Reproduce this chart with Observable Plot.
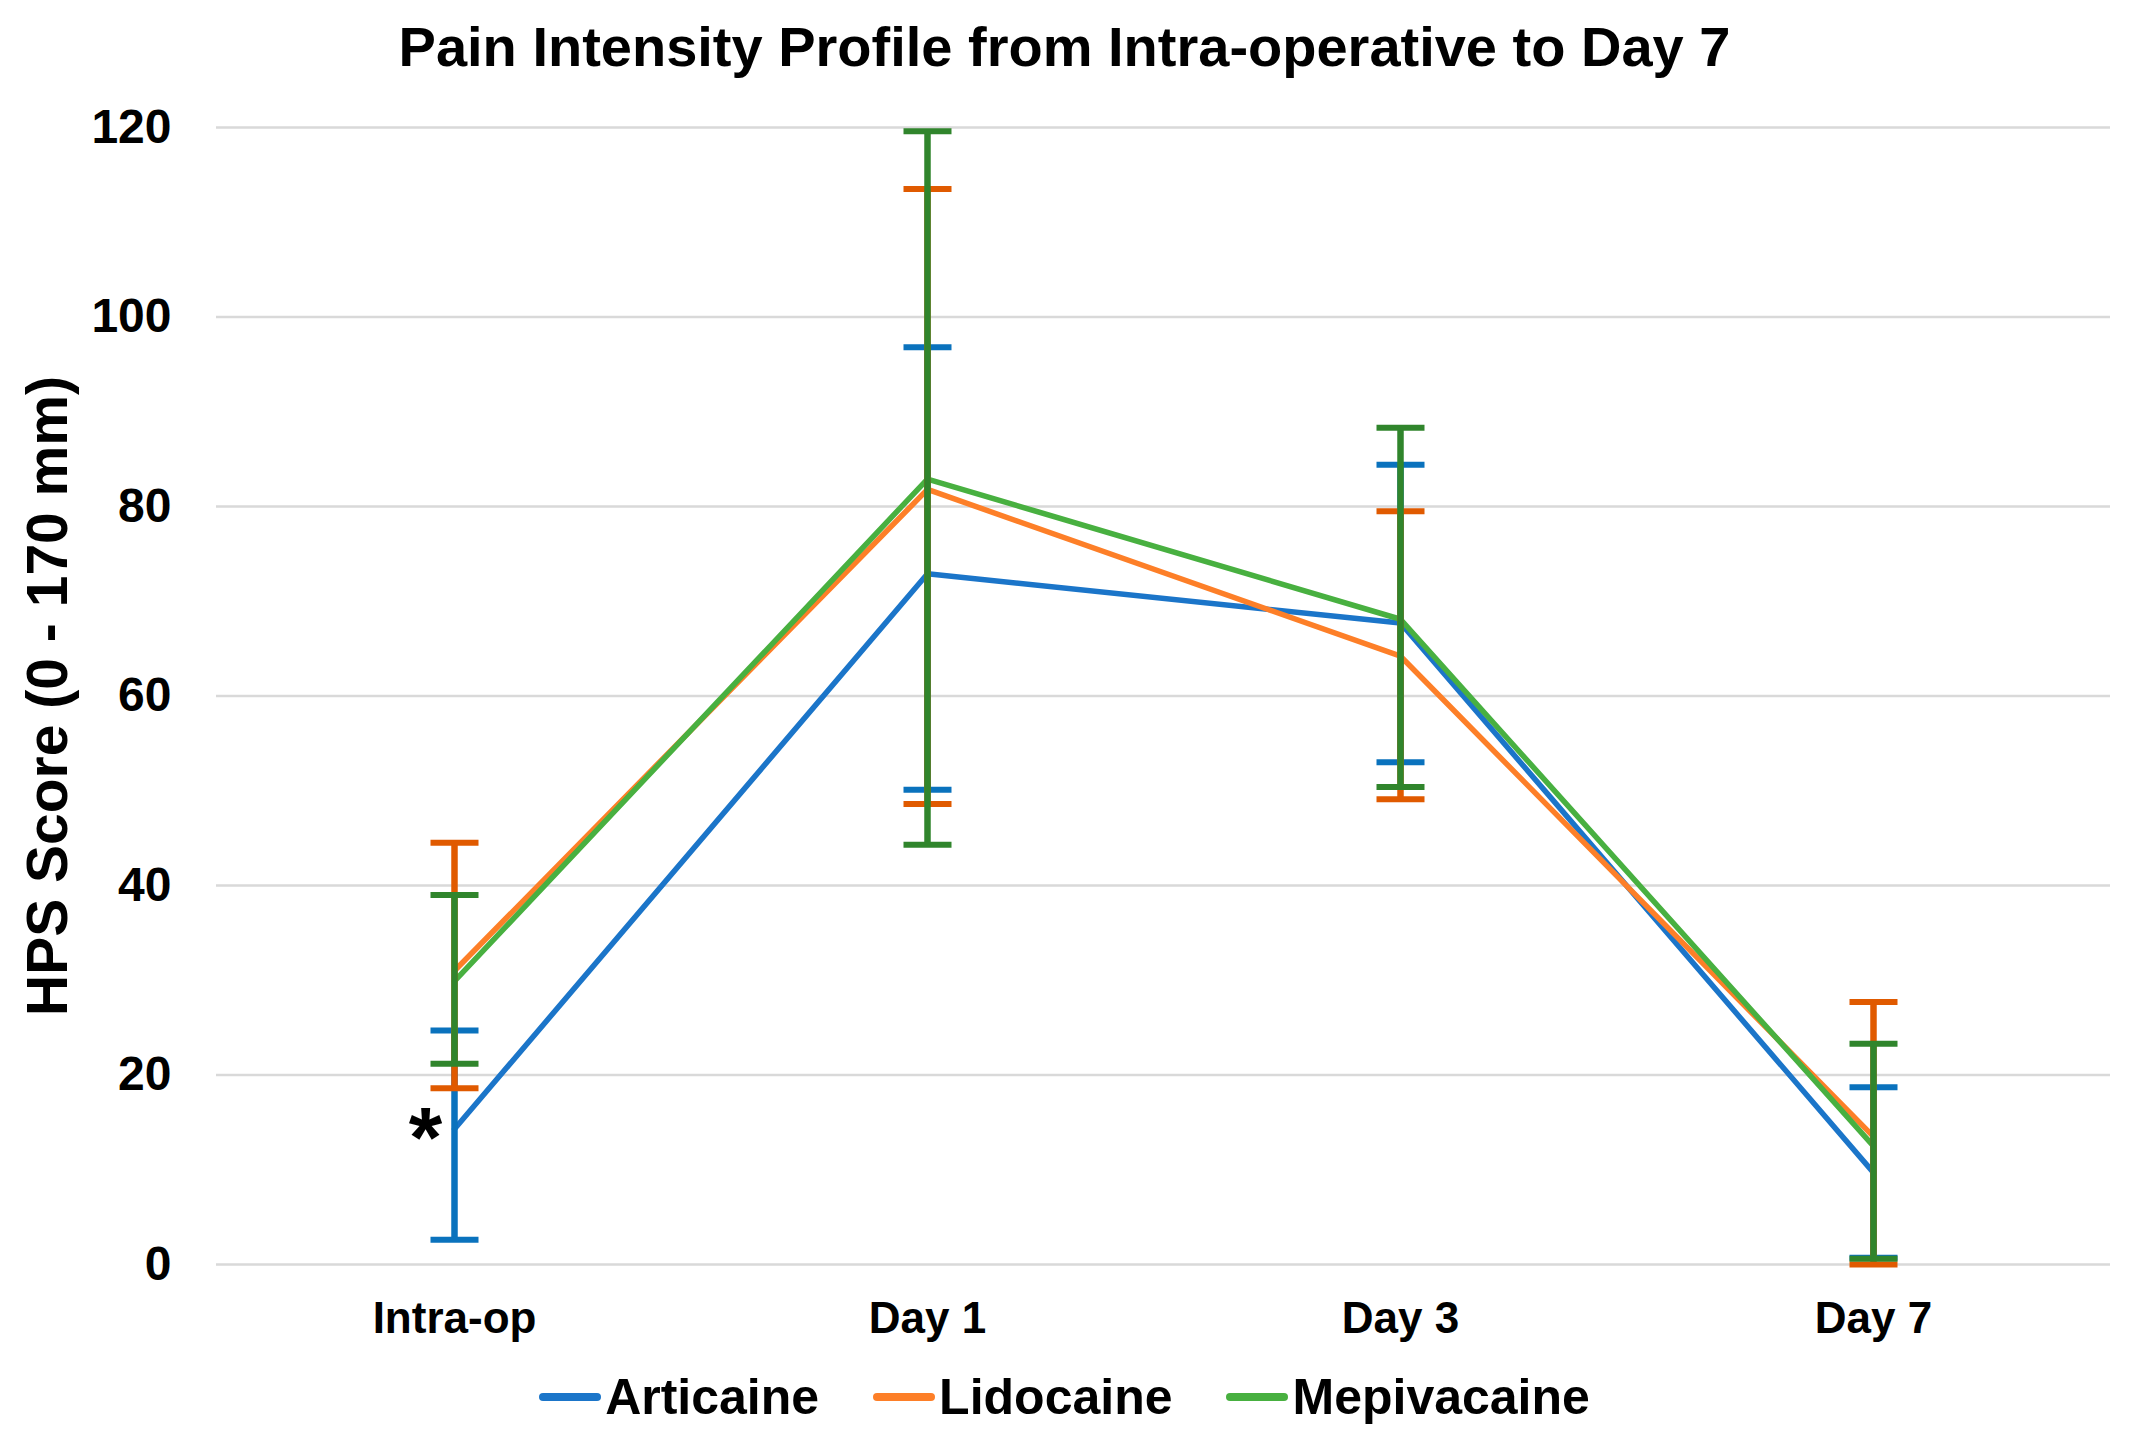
<!DOCTYPE html>
<html>
<head>
<meta charset="utf-8">
<script src="https://cdn.jsdelivr.net/npm/d3@7"></script>
<script src="https://cdn.jsdelivr.net/npm/@observablehq/plot@0.6"></script>
<style>
html, body { margin: 0; padding: 0; background: #fff; }
body { width: 2129px; height: 1441px; position: relative; overflow: hidden; font-family: "Liberation Sans", Arial, sans-serif; color: #000; }
#title { position: absolute; left: 0; top: 19px; width: 2129px; text-align: center; font-weight: bold; font-size: 56px; line-height: 56px; }
#chart { position: absolute; left: 0; top: 90px; }
#legend { position: absolute; left: 0; top: 1370px; width: 2129px; display: flex; justify-content: center; align-items: center; gap: 54px; font-weight: bold; font-size: 50px; line-height: 54px; }
.item { display: flex; align-items: center; gap: 4px; }
</style>
</head>
<body>
<div id="title">Pain Intensity Profile from Intra-operative to Day 7</div>
<div id="chart"></div>
<div id="legend"></div>
<script>
// ---- data ----
const categories = ["Intra-op", "Day 1", "Day 3", "Day 7"];
const seriesNames = ["Articaine", "Lidocaine", "Mepivacaine"];
const yTicks = [0, 20, 40, 60, 80, 100, 120];

const articaineMean = [14.3, 72.9, 67.7, 9.7];
const articaineLow  = [2.6, 50.1, 53.0, 0.7];
const articaineHigh = [24.7, 96.8, 84.4, 18.7];

const lidocaineMean = [31.0, 81.8, 64.2, 13.5];
const lidocaineLow  = [18.6, 48.6, 49.1, 0.0];
const lidocaineHigh = [44.5, 113.5, 79.5, 27.7];

const mepivacaineMean = [29.9, 82.9, 68.1, 12.5];
const mepivacaineLow  = [21.2, 44.3, 50.4, 0.6];
const mepivacaineHigh = [39.0, 119.6, 88.3, 23.3];

const lineColors = ["#1b75c9", "#fd7f28", "#48b040"];
const errColors  = ["#0a72bd", "#e05a00", "#30852c"];

const means = [articaineMean, lidocaineMean, mepivacaineMean];
const lows  = [articaineLow, lidocaineLow, mepivacaineLow];
const highs = [articaineHigh, lidocaineHigh, mepivacaineHigh];

const rows = [];
seriesNames.forEach((s, k) => categories.forEach((c, i) => rows.push({
  series: s, cat: c, mean: means[k][i], low: lows[k][i], high: highs[k][i]
})));

const capSymbol = { draw(ctx) { ctx.moveTo(-24, 0); ctx.lineTo(24, 0); } };
const FONT = "'Liberation Sans', Arial, sans-serif";

const lineMarks = seriesNames.map((s, k) =>
  Plot.line(rows.filter(d => d.series === s), { x: "cat", y: "mean", stroke: lineColors[k], strokeWidth: 5.5 })
);
const errMarks = seriesNames.flatMap((s, k) => {
  const d = rows.filter(r => r.series === s);
  return [
    Plot.ruleX(d, { x: "cat", y1: "low", y2: "high", stroke: errColors[k], strokeWidth: 6.5 }),
    Plot.dot(d, { x: "cat", y: "low", symbol: capSymbol, stroke: errColors[k], strokeWidth: 6, fill: "none" }),
    Plot.dot(d, { x: "cat", y: "high", symbol: capSymbol, stroke: errColors[k], strokeWidth: 6, fill: "none" })
  ];
});

const chart = Plot.plot({
  width: 2129,
  height: 1275,
  marginTop: 37,
  marginBottom: 101,
  marginLeft: 216,
  marginRight: 19,
  style: { fontFamily: FONT, color: "#000", background: "#fff" },
  x: { type: "point", domain: categories, padding: 0.5, label: null },
  y: { domain: [0, 120], label: null },
  marks: [
    Plot.gridY(yTicks, { stroke: "#d9d9d9", strokeOpacity: 1, strokeWidth: 2.5 }),
    Plot.axisX({ tickSize: 0, tickPadding: 37, fontSize: 44, fontWeight: "bold", label: null }),
    Plot.axisY(yTicks, { tickSize: 0, tickPadding: 45, fontSize: 48, fontWeight: "bold", label: null }),
    Plot.text(["HPS Score (0 - 170 mm)"], { text: d => d, frameAnchor: "left", textAnchor: "middle", dx: -168, rotate: -90, fontSize: 57, fontWeight: "bold" }),
    ...lineMarks,
    ...errMarks,
    Plot.text([{ cat: categories[0], y: articaineMean[0] }], { x: "cat", y: "y", text: () => "*", dx: -29, dy: 10, fontSize: 86, fontWeight: "bold" })
  ]
});
document.getElementById("chart").appendChild(chart);

// legend
const legend = document.getElementById("legend");
seriesNames.forEach((s, k) => {
  const item = document.createElement("div");
  item.className = "item";
  item.innerHTML = `<svg width="62" height="12"><line x1="4" y1="6" x2="58" y2="6" stroke="${lineColors[k]}" stroke-width="8" stroke-linecap="round"/></svg><span>${s}</span>`;
  legend.appendChild(item);
});
</script>
</body>
</html>
